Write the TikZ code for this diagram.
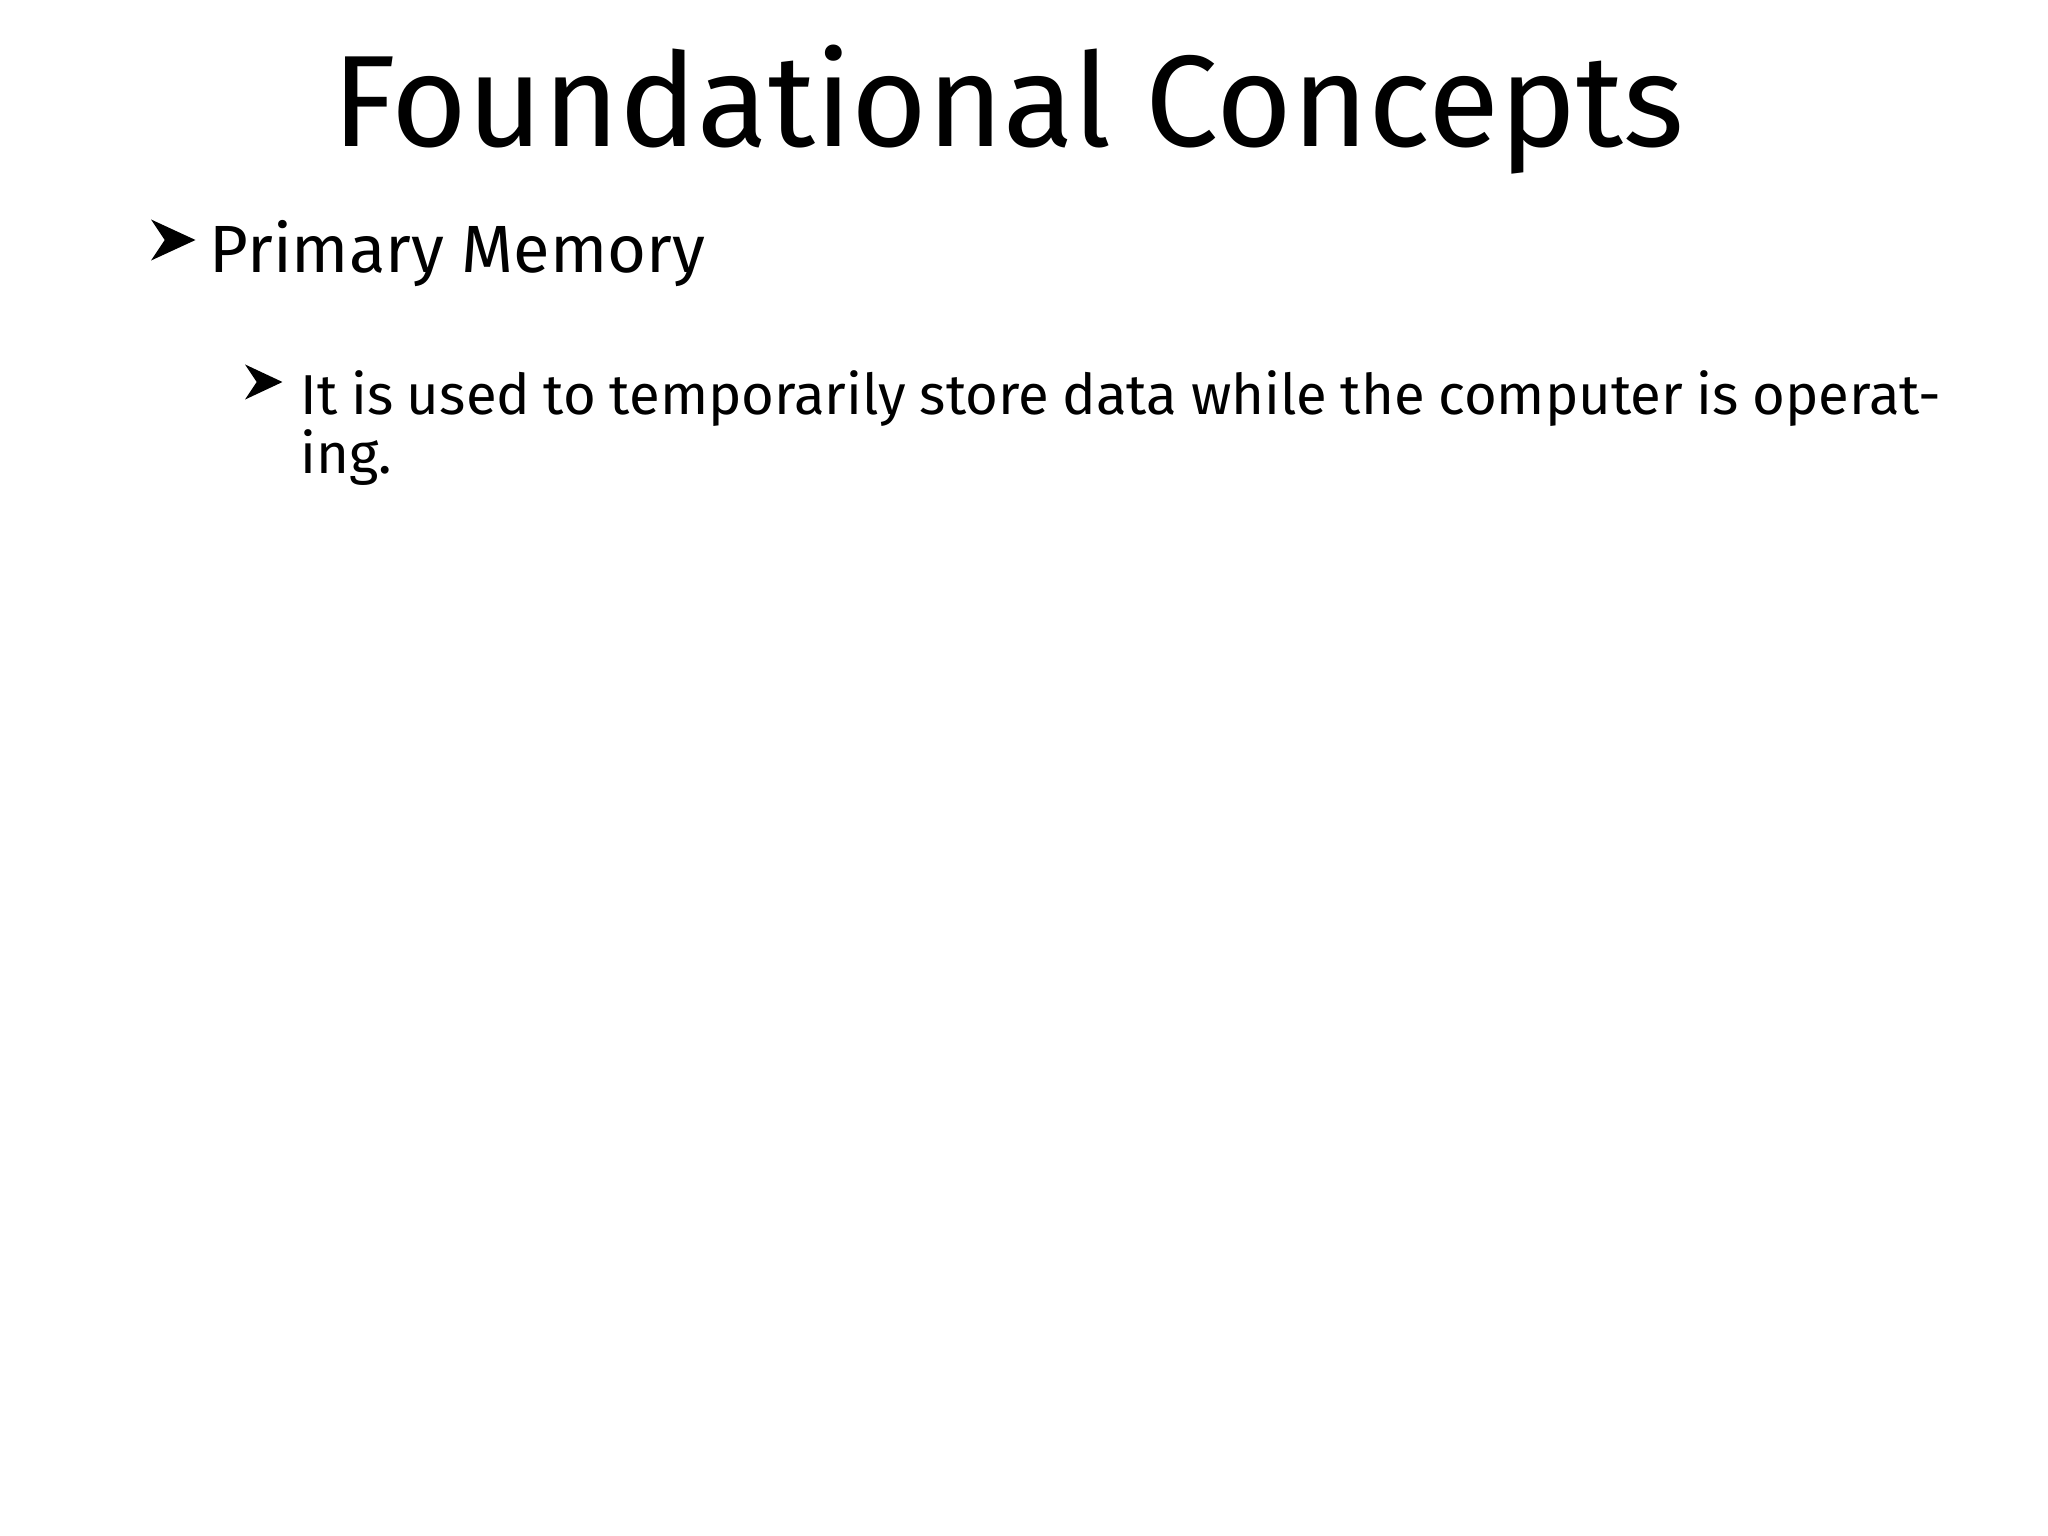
\documentclass[tikz,border=0pt]{standalone}
\usepackage{fontspec}
\setmainfont{Fira Sans}
\begin{document}
\begin{tikzpicture}[x=0.01cm,y=-0.01cm,
  bul/.style={fill=black,draw=black,line width=0.6pt,line join=miter}]
\useasboundingbox (0,0) rectangle (2048,1536);
\node[anchor=base,inner sep=0] (title) at (1008,146) {\fontsize{37}{44}\selectfont Foundational Concepts};
% bullet 1
\filldraw[bul] (154,222) -- (193,240) -- (154,258) -- (166,240) -- cycle;
\node[anchor=base west,inner sep=0] (b1) at (209,272) {\fontsize{19}{23}\selectfont Primary Memory};
% bullet 2
\filldraw[bul] (248,367) -- (280,382) -- (248,397) -- (258,382) -- cycle;
\node[anchor=north west,inner sep=0,text width=16.39cm,align=justify] (b2) at (300,370)
 {\fontsize{16}{17.4}\selectfont It is used to temporarily store data while the computer is operating.};
\end{tikzpicture}
\end{document}
